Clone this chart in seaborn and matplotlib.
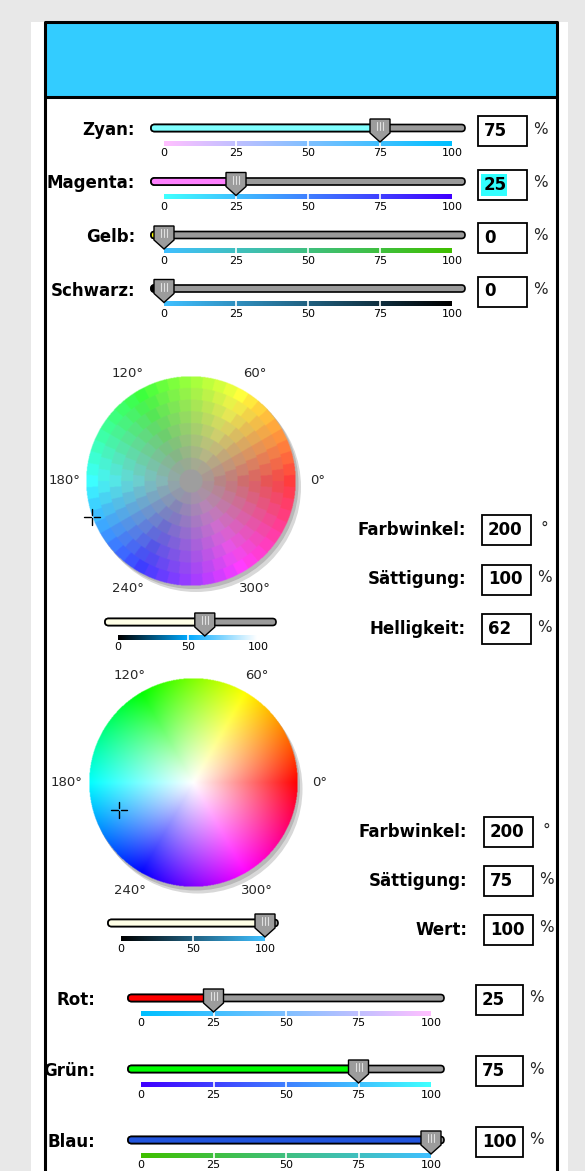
import numpy as np
import matplotlib
matplotlib.use("Agg")
import matplotlib.pyplot as plt
import matplotlib.patches as mpatches
from matplotlib.colors import hsv_to_rgb
import seaborn as sns

# ---- values ----
cmyk_names = ["Zyan:", "Magenta:", "Gelb:", "Schwarz:"]
cmyk_values = [75, 25, 0, 0]
cmyk_fill = ["#80FFFF", "#FF80FF", "#FFFF00", "#000000"]
rgb_names = ["Rot:", "Grün:", "Blau:"]
rgb_values = [25, 75, 100]
rgb_fill = ["#FF0000", "#00FF00", "#2255DD"]
scale_ticks = [0, 25, 50, 75, 100]
wheel_ticks = [0, 50, 100]
hsl_names = ["Farbwinkel:", "Sättigung:", "Helligkeit:"]
hsl_values = [200, 100, 62]
hsv_names = ["Farbwinkel:", "Sättigung:", "Wert:"]
hsv_values = [200, 75, 100]
field_units = ["°", "%", "%"]
angle_values = [0, 60, 120, 180, 240, 300]
angle_labels = ["0°", "60°", "120°", "180°", "240°", "300°"]
header_color = "#33CCFF"

W, H = 585, 1171
sns.set_theme(style="white")
plt.rcParams["font.family"] = ["DejaVu Sans"]

fig = plt.figure(figsize=(W / 100, H / 100), dpi=100, facecolor="#E8E8E8")
ax = fig.add_axes([0, 0, 1, 1])
ax.set_facecolor("#E8E8E8")
ax.axis("off")

LBL = dict(fontsize=12, fontweight="bold", color="black")
TCK = dict(fontsize=8, color="black", ha="center", va="center")


def grad_bar(x0, x1, y, cols, ticks, zs=3):
    img = np.array(cols)[None, :, :]
    ax.imshow(img, extent=(x0, x1, y + 2.5, y - 2.5), aspect="auto", zorder=zs,
              interpolation="bilinear")
    for t in ticks[1:-1]:
        xt = x0 + (x1 - x0) * t / 100
        ax.plot([xt, xt], [y - 3, y + 3], color="white", lw=1.2, zorder=zs + 1)
    for t in ticks:
        xt = x0 + (x1 - x0) * t / 100
        ax.text(xt, y + 10, str(t), zorder=zs + 1, **TCK)


def thumb(x, y):
    pts = [(x - 10, y - 9), (x + 10, y - 9), (x + 10, y + 5), (x, y + 14), (x - 10, y + 5)]
    ax.add_patch(mpatches.Polygon(pts, closed=True, fc="#9C9C9C", ec="black", lw=1.0, zorder=6))
    for dx in (-3, 0, 3):
        ax.plot([x + dx, x + dx], [y - 6, y + 2], color="#E0E0E0", lw=0.8, zorder=7)


def slider(t0, t1, v0, v1, y, value, fill, cols, ticks):
    ax.add_patch(mpatches.FancyBboxPatch((t0, y - 3.5), t1 - t0, 7,
                 boxstyle="round,pad=0,rounding_size=3.5", fc="#9A9A9A", ec="black", lw=1.2, zorder=4))
    pos = v0 + (v1 - v0) * value / 100
    if pos - t0 > 4:
        ax.add_patch(mpatches.FancyBboxPatch((t0, y - 3.5), pos - t0, 7,
                     boxstyle="round,pad=0,rounding_size=3.5", fc=fill, ec="black", lw=1.2, zorder=5))
    grad_bar(v0, v1, y + 15.5, cols, ticks)
    thumb(pos, y)


def value_box(x0, x1, y, txt, unit, hilite=False):
    ax.add_patch(mpatches.Rectangle((x0, y - 15), x1 - x0, 30, fc="white", ec="black", lw=1.3, zorder=4))
    if hilite:
        ax.add_patch(mpatches.Rectangle((x0 + 3, y - 11), 26, 22, fc="#33FFFF", ec="none", zorder=5))
    ax.text(x0 + 6, y, txt, ha="left", va="center", zorder=6, **LBL)
    ax.text(x1 + 13, y - 2, unit, ha="center", va="center", fontsize=11, zorder=6)


# ---- frame ----
ax.add_patch(mpatches.Rectangle((31, 22), 537, H, fc="white", ec="none", zorder=1))
ax.add_patch(mpatches.Rectangle((45, 22), 512, 75, fc=header_color, ec="none", zorder=2))
ax.plot([45, 45, 557, 557], [H + 5, 22, 22, H + 5], color="black", lw=2.2, zorder=9)
ax.plot([45, 557], [97, 97], color="black", lw=2.2, zorder=9)

# ---- CMYK sliders ----
cur_cmyk = np.array(cmyk_values) / 100
n = 60
ramp = np.linspace(0, 1, n)
for i, (name, val) in enumerate(zip(cmyk_names, cmyk_values)):
    y = 128 + i * 53.5
    cols = []
    for r in ramp:
        c = cur_cmyk.copy()
        c[i] = r
        cols.append([(1 - c[0]) * (1 - c[3]), (1 - c[1]) * (1 - c[3]), (1 - c[2]) * (1 - c[3])])
    ax.text(135, y + 2, name, ha="right", va="center", zorder=6, **LBL)
    slider(151, 465, 164, 452, y, val, cmyk_fill[i], cols, scale_ticks)
    value_box(478, 527, y + 3, str(val), "%", hilite=(i == 1))


# ---- colour wheels ----
def wheel(cx, cy, r, kind, level, marker):
    ax.add_patch(mpatches.Circle((cx + 5, cy + 6), r, fc="#D8D8D8", ec="none", zorder=2))
    ax.add_patch(mpatches.Circle((cx + 2.5, cy + 3), r, fc="#B8B8B8", ec="none", zorder=2))
    N = 420
    g = np.linspace(-r, r, N)
    dx, dy = np.meshgrid(g, g)
    rad = np.sqrt(dx ** 2 + dy ** 2) / r
    hue = (np.degrees(np.arctan2(-dy, dx)) % 360)
    if kind == "hsl":
        rings = 9
        k = np.clip(np.ceil(rad * rings), 1, rings)
        nsec = 6 * k
        step = 360 / nsec
        off = (k % 2) * step / 2
        hue = (np.floor((hue - off) / step) + 0.5) * step + off
        sat = np.where(rad < 1 / rings, 0.0, (k - 1) / (rings - 1))
        base = hsv_to_rgb(np.dstack([(hue % 360) / 360, np.ones_like(hue), np.ones_like(hue)]))
        C = (1 - abs(2 * level - 1)) * sat[..., None]
        rgb = level + C * (base - 0.5)
    else:
        sat = np.clip(rad, 0, 1)
        rgb = hsv_to_rgb(np.dstack([hue / 360, sat, np.full_like(hue, level)]))
    rgba = np.dstack([np.clip(rgb, 0, 1), (rad <= 1).astype(float)])
    ax.imshow(rgba, extent=(cx - r, cx + r, cy + r, cy - r), aspect="auto", zorder=3,
              interpolation="bilinear")
    for a, lab in zip(angle_values, angle_labels):
        lx = cx + 127 * np.cos(np.radians(a))
        ly = cy - 124 * np.sin(np.radians(a))
        ax.text(lx, ly, lab, ha="center", va="center", fontsize=9.5, zorder=8)
    h, s = marker
    mx = cx + r * s * np.cos(np.radians(h))
    my = cy - r * s * np.sin(np.radians(h))
    ax.plot([mx - 8, mx - 1.5], [my, my], color="black", lw=1, zorder=8)
    ax.plot([mx + 1.5, mx + 8], [my, my], color="black", lw=1, zorder=8)
    ax.plot([mx, mx], [my - 8, my - 1.5], color="black", lw=1, zorder=8)
    ax.plot([mx, mx], [my + 1.5, my + 8], color="black", lw=1, zorder=8)


def hsl_rgb(h, s, l):
    base = hsv_to_rgb([h / 360, 1, 1])
    C = (1 - abs(2 * l - 1)) * s
    return np.clip(l + C * (base - 0.5), 0, 1)


# wheel 1 (HSL)
wheel(191, 481, 105, "hsl", hsl_values[2] / 100, (hsl_values[0], hsl_values[1] / 100))
cols = [hsl_rgb(hsl_values[0], hsl_values[1] / 100, r) for r in ramp]
slider(105, 276, 118, 258, 622, hsl_values[2], "#FFFFE6", cols, wheel_ticks)
for i, (name, val) in enumerate(zip(hsl_names, hsl_values)):
    y = 530 + i * 49.5
    ax.text(466, y, name, ha="right", va="center", zorder=6, **LBL)
    value_box(482, 531, y, str(val), field_units[i])

# wheel 2 (HSV)
wheel(193, 783, 104.5, "hsv", hsv_values[2] / 100, (hsv_values[0], hsv_values[1] / 100))
cols = [hsv_to_rgb([hsv_values[0] / 360, hsv_values[1] / 100, r]) for r in ramp]
slider(108, 278, 121, 265, 923, hsv_values[2], "#FFFFE6", cols, wheel_ticks)
for i, (name, val) in enumerate(zip(hsv_names, hsv_values)):
    y = 832 + i * 49
    ax.text(467, y, name, ha="right", va="center", zorder=6, **LBL)
    value_box(484, 533, y, str(val), field_units[i])

# ---- RGB sliders ----
cur_rgb = np.array(rgb_values) / 100
for i, (name, val) in enumerate(zip(rgb_names, rgb_values)):
    y = 998 + i * 71
    cols = []
    for r in ramp:
        c = cur_rgb.copy()
        c[i] = r
        cols.append(list(c))
    ax.text(95, y + 2, name, ha="right", va="center", zorder=6, **LBL)
    slider(128, 444, 141, 431, y, val, rgb_fill[i], cols, scale_ticks)
    value_box(476, 523, y + 2, str(val), "%")

ax.set_xlim(0, W)
ax.set_ylim(H, 0)
fig.savefig("out.png", dpi=100, facecolor=fig.get_facecolor())
